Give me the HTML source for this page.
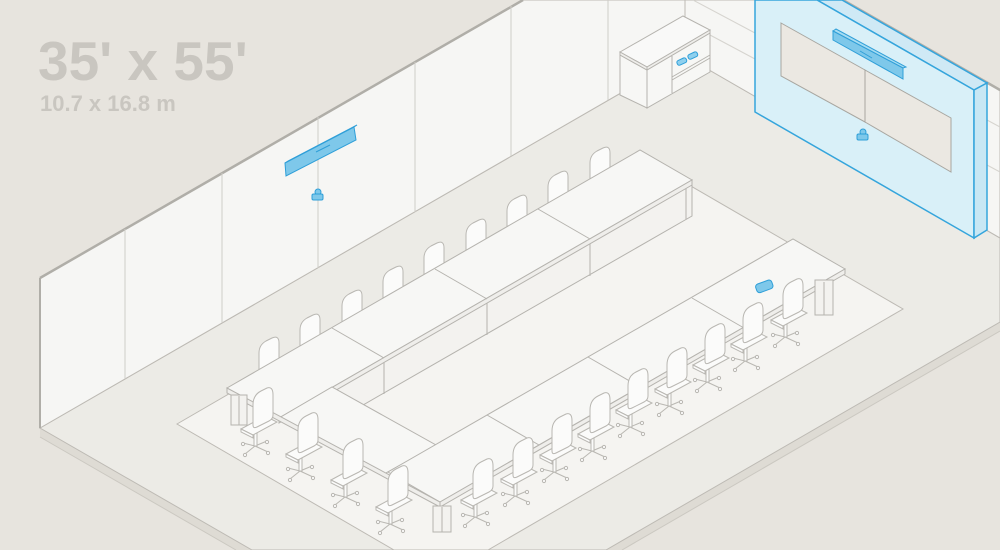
<!DOCTYPE html>
<html><head><meta charset="utf-8"><style>
html,body{margin:0;padding:0;background:#e7e4de;}
svg{display:block;}
text{font-family:"Liberation Sans",sans-serif;font-weight:bold;fill:#c9c6c0;}
</style></head><body>
<svg width="1000" height="550" viewBox="0 0 1000 550" xmlns="http://www.w3.org/2000/svg">
<defs>
<g id="ch" stroke="#b9b7b2" stroke-width="1" fill="#fbfbfa">
  <g fill="none">
    <line x1="-8" y1="39" x2="-20" y2="36"/><line x1="-8" y1="39" x2="4" y2="34"/>
    <line x1="-8" y1="39" x2="5" y2="45"/><line x1="-8" y1="39" x2="-18" y2="47"/>
  </g>
  <circle cx="-20" cy="37" r="1.6"/><circle cx="4" cy="35" r="1.6"/><circle cx="5" cy="46" r="1.6"/><circle cx="-18" cy="48" r="1.6"/>
  <rect x="-9" y="22" width="3" height="17"/>
  <polygon points="-22,22 2,9 14,15 -10,28"/>
  <polygon points="-22,22 -10,28 -10,31 -22,25"/>
  <path d="M-10,-2 Q-10,-12 -2,-16 L4,-19 Q10,-21 10,-12 L10,8 Q10,12 6,14 L-6,20 Q-10,22 -10,18 Z"/>
</g>
<g id="bc" stroke="#b9b7b2" stroke-width="1" fill="#fbfbfa">
  <path d="M-10,0 Q-10,-8 -3,-12 L3,-15 Q10,-18 10,-10 L10,16 L-10,26 Z"/>
</g>
</defs>

<rect width="1000" height="550" fill="#e7e4de"/>

<polygon points="40,428 40,437 236,550 252,550" fill="#dedbd4"/>
<polygon points="1000,322 1000,331 622,550 606,550" fill="#dedbd4"/>
<line x1="40" y1="437" x2="236" y2="550" stroke="#cbc8c1" stroke-width="1"/>
<line x1="1000" y1="331" x2="622" y2="550" stroke="#cbc8c1" stroke-width="1"/>

<polygon points="40,428 685,56 1000,238 1000,322 606,550 252,550" fill="#ecebe6" stroke="#bdbab4" stroke-width="1"/>

<polygon points="177,424 639,156 903,309 488,550 394,550" fill="#f5f4f1" stroke="#bdbab4" stroke-width="1"/>

<polygon points="40,278 523,0 685,0 685,56 40,428" fill="#f6f6f4" stroke="#bdbab4" stroke-width="1"/>
<line x1="40" y1="278" x2="523" y2="0" stroke="#b0aea8" stroke-width="2.5"/>
<line x1="40" y1="278" x2="40" y2="428" stroke="#b0aea8" stroke-width="2"/>
<g stroke="#cfcdc8" stroke-width="1">
  <line x1="125" y1="229" x2="125" y2="379"/>
  <line x1="222" y1="173" x2="222" y2="323"/>
  <line x1="318" y1="117" x2="318" y2="268"/>
  <line x1="415" y1="62" x2="415" y2="212"/>
  <line x1="511" y1="6" x2="511" y2="156"/>
  <line x1="608" y1="0" x2="608" y2="100"/>
</g>

<polygon points="685,0 843,0 1000,90 1000,238 685,56" fill="#f6f6f4" stroke="#bdbab4" stroke-width="1"/>
<line x1="843" y1="0" x2="1000" y2="90" stroke="#b0aea8" stroke-width="2.5"/>
<g stroke="#d6d4cf" stroke-width="1">
  <line x1="693" y1="0" x2="755" y2="33"/>
  <line x1="710" y1="35" x2="755" y2="59"/>
  <line x1="987" y1="120" x2="1000" y2="127"/>
  <line x1="987" y1="165" x2="1000" y2="172"/>
</g>

<g stroke="#b5b3ae" stroke-width="1">
  <polygon points="620,55 647,70 647,108 620,95" fill="#f7f7f5"/>
  <polygon points="647,70 710,33 710,72 647,108" fill="#f7f7f5"/>
  <polygon points="620,52 683,16 710,30 647,67" fill="#f9f9f8"/>
  <polygon points="620,52 647,67 647,70 620,55" fill="#efeeeb"/>
  <polygon points="647,67 710,30 710,33 647,70" fill="#efeeeb"/>
  <line x1="672" y1="56" x2="672" y2="93"/>
  <line x1="672" y1="77" x2="710" y2="55"/>
  <line x1="672" y1="80" x2="710" y2="58"/>
</g>
<g fill="#8fd0ee" stroke="#2f9fd8" stroke-width="1">
  <rect x="677" y="59" width="10" height="5" rx="2" transform="rotate(-25 682 62)"/>
  <rect x="688" y="53" width="10" height="5" rx="2" transform="rotate(-25 693 56)"/>
</g>

<polygon points="817,0 842,0 987,83 974,90" fill="#cfe9f5" stroke="#35a5dc" stroke-width="1.5"/>
<polygon points="755,0 817,0 974,90 974,238 755,112" fill="#d9f0f8" stroke="#35a5dc" stroke-width="1.5"/>
<polygon points="974,90 987,83 987,230 974,238" fill="#c8e7f4" stroke="#35a5dc" stroke-width="1.5"/>
<polygon points="781,23 865,70 865,122 781,76" fill="#ebe8e2" stroke="#a8a6a0" stroke-width="1"/>
<polygon points="865,70 951,118 951,172 865,122" fill="#ebe8e2" stroke="#a8a6a0" stroke-width="1"/>
<polygon points="833,31 836,29 906,67 903,68" fill="#a6dcf2" stroke="#2f9fd8" stroke-width="1"/>
<polygon points="833,31 903,68 903,79 833,40" fill="#7ec8ea" stroke="#2f9fd8" stroke-width="1"/>
<line x1="860" y1="51" x2="872" y2="58" stroke="#2f9fd8" stroke-width="1"/>
<g fill="#7ec8ea" stroke="#2f9fd8" stroke-width="1">
  <circle cx="863" cy="132" r="3"/>
  <rect x="857" y="134" width="11" height="6" rx="1.5"/>
</g>

<polygon points="285,163 288,161 357,125 354,127" fill="#a6dcf2" stroke="#2f9fd8" stroke-width="1"/>
<polygon points="285,163 354,127 356,140 286,176" fill="#7ec8ea" stroke="#2f9fd8" stroke-width="1"/>
<line x1="316" y1="152" x2="330" y2="145" stroke="#2f9fd8" stroke-width="1"/>
<g fill="#7ec8ea" stroke="#2f9fd8" stroke-width="1">
  <circle cx="318" cy="192" r="3"/>
  <rect x="312" y="194" width="11" height="6" rx="1.5"/>
</g>

<use href="#bc" x="269" y="353"/><use href="#bc" x="310" y="330"/><use href="#bc" x="352" y="306"/>
<use href="#bc" x="393" y="282"/><use href="#bc" x="434" y="258"/><use href="#bc" x="476" y="235"/>
<use href="#bc" x="517" y="211"/><use href="#bc" x="558" y="187"/><use href="#bc" x="600" y="163"/>

<g stroke="#b5b3ae" stroke-width="1">
  <polygon points="332,387 692,180 692,216 363,405" fill="#f3f2ef"/>
  <line x1="384" y1="358" x2="384" y2="394"/>
  <line x1="487" y1="299" x2="487" y2="335"/>
  <line x1="590" y1="240" x2="590" y2="276"/>
  <line x1="686" y1="184" x2="686" y2="219"/>
  <polygon points="227,388 640,150 692,180 279,418" fill="#f7f7f5"/>
  <polygon points="279,418 692,180 692,185 279,423" fill="#efeeeb"/>
  <line x1="332" y1="328" x2="384" y2="358"/>
  <line x1="435" y1="269" x2="487" y2="299"/>
  <line x1="538" y1="209" x2="590" y2="239"/>
  <polygon points="279,418 332,387 436,445 384,474" fill="#f7f7f5"/>
  <polygon points="388,472 793,239 845,269 440,502" fill="#f7f7f5"/>
  <polygon points="440,502 845,269 845,274 440,507" fill="#efeeeb"/>
  <line x1="487" y1="415" x2="539" y2="445"/>
  <line x1="588" y1="357" x2="640" y2="387"/>
  <line x1="692" y1="298" x2="744" y2="328"/>
  <polygon points="227,388 440,502 440,507 227,393" fill="#efeeeb"/>
  <rect x="231" y="395" width="16" height="30" fill="#f3f2ef"/>
  <line x1="239" y1="396" x2="239" y2="425"/>
  <rect x="433" y="506" width="18" height="26" fill="#f3f2ef"/>
  <line x1="442" y1="507" x2="442" y2="532"/>
  <rect x="815" y="280" width="18" height="35" fill="#f3f2ef"/>
  <line x1="824" y1="282" x2="824" y2="315"/>
</g>

<rect x="756" y="282" width="17" height="9" rx="3" fill="#7ec8ea" stroke="#2f9fd8" stroke-width="1" transform="rotate(-20 764 287)"/>

<use href="#ch" x="263" y="407"/><use href="#ch" x="308" y="432"/>
<use href="#ch" x="353" y="458"/><use href="#ch" x="398" y="485"/>
<use href="#ch" x="793" y="298"/><use href="#ch" x="753" y="322"/><use href="#ch" x="715" y="343"/>
<use href="#ch" x="677" y="367"/><use href="#ch" x="638" y="388"/><use href="#ch" x="600" y="412"/>
<use href="#ch" x="562" y="433"/><use href="#ch" x="523" y="457"/><use href="#ch" x="483" y="478"/>

<text x="38" y="80" font-size="55">35' x 55'</text>
<text x="40" y="111" font-size="22">10.7 x 16.8 m</text>
</svg>
</body></html>
